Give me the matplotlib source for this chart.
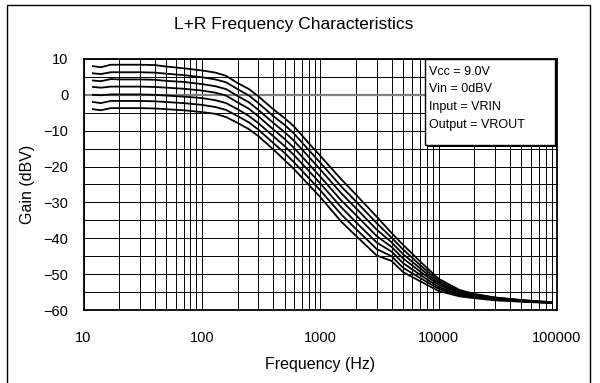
#!/usr/bin/env python3
"""L+R frequency characteristics: gain vs frequency for several volume steps."""

import matplotlib
matplotlib.use("Agg")
import matplotlib.pyplot as plt
from matplotlib.patches import Rectangle
from matplotlib.ticker import LogLocator, FixedLocator, NullFormatter


FREQ_HZ = [12, 14, 17, 20, 30, 40, 50, 70, 100, 130, 160, 200, 250, 300, 400,
           500, 600, 800, 1000, 1500, 2000, 3000, 4000, 5000, 7000, 10000,
           15000, 20000, 30000, 50000, 70000, 90000]

GAIN_P8 = [8.0, 7.7, 8.4, 8.4, 8.4, 8.3, 7.9, 7.4, 6.8, 6.2, 5.3, 3.3, 1.6, -0.4, -4.0,
           -6.5, -8.8, -13.5, -17.0, -23.5, -27.8, -34.0, -38.5, -41.8, -46.5, -51.3,
           -54.4, -55.5, -56.5, -57.2, -57.6, -57.8]
GAIN_P6 = [6.0, 5.8, 6.3, 6.3, 6.3, 6.2, 5.9, 5.5, 4.9, 4.3, 3.5, 1.6, -0.2, -2.3, -5.9,
           -8.4, -10.8, -15.4, -18.9, -25.5, -29.7, -35.8, -39.8, -43.1, -47.5, -51.9,
           -54.7, -55.7, -56.6, -57.3, -57.6, -57.8]
GAIN_P4 = [4.0, 3.8, 4.4, 4.3, 4.3, 4.2, 3.9, 3.6, 3.0, 2.4, 1.6, -0.3, -2.1, -4.2, -7.8,
           -10.4, -12.8, -17.3, -20.8, -27.4, -31.6, -37.6, -41.1, -44.4, -48.4, -52.5,
           -55.0, -55.9, -56.7, -57.3, -57.7, -57.9]
GAIN_P2 = [2.2, 2.0, 2.3, 2.3, 2.3, 2.2, 2.0, 1.7, 1.2, 0.6, -0.2, -2.1, -3.9, -6.0, -9.6,
           -12.3, -14.8, -19.3, -22.8, -29.4, -33.5, -39.4, -42.4, -45.6, -49.3, -53.0,
           -55.3, -56.1, -56.9, -57.4, -57.7, -57.9]
GAIN_0 = [0.0, -0.1, 0.1, 0.1, 0.1, 0.0, -0.2, -0.5, -0.9, -1.5, -2.3, -4.0, -5.9, -7.9, -11.5,
          -14.3, -16.8, -21.2, -24.7, -31.3, -35.5, -41.2, -43.7, -46.9, -50.2, -53.6,
          -55.6, -56.3, -57.0, -57.5, -57.8, -58.0]
GAIN_M2 = [-2.0, -2.3, -1.7, -1.7, -1.7, -1.8, -2.0, -2.3, -2.8, -3.4, -4.2, -5.9, -7.7, -9.7, -13.4,
           -16.2, -18.8, -23.2, -26.6, -33.3, -37.4, -43.0, -45.0, -48.2, -51.1, -54.1,
           -55.9, -56.5, -57.1, -57.6, -57.8, -58.0]
GAIN_M4 = [-4.0, -4.3, -3.7, -3.7, -3.7, -3.8, -4.0, -4.3, -4.8, -5.3, -6.2, -7.8, -9.6, -11.5, -15.2,
           -18.2, -20.7, -25.1, -28.5, -35.3, -39.3, -44.8, -46.3, -49.4, -52.0, -54.7,
           -56.2, -56.7, -57.3, -57.7, -57.9, -58.1]

SERIES = [GAIN_P8, GAIN_P6, GAIN_P4, GAIN_P2, GAIN_0, GAIN_M2, GAIN_M4]

Y_TICKS = [10, 0, -10, -20, -30, -40, -50, -60]
X_TICKS = [10, 100, 1000, 10000, 100000]
X_TICK_LABELS = ["10", "100", "1000", "10000", "100000"]

NOTE_LINES = ["Vcc = 9.0V", "Vin = 0dBV", "Input = VRIN", "Output = VROUT"]


def main():
	plt.rcParams["font.family"] = ["Liberation Sans", "DejaVu Sans"]

	fig = plt.figure(figsize=(6.0, 3.83), dpi=100)
	ax = fig.add_axes([0.1392, 0.1906, 0.7891, 0.6554])

	for gains in SERIES:
		ax.plot(FREQ_HZ, gains, color="black", linewidth=1.3, zorder=3)

	ax.set_xscale("log")
	ax.set_xlim(10, 100000)
	ax.set_ylim(-60, 10)

	ax.xaxis.set_major_locator(FixedLocator(X_TICKS))
	ax.set_xticklabels(X_TICK_LABELS)
	ax.xaxis.set_minor_locator(LogLocator(base=10, subs=range(2, 10)))
	ax.xaxis.set_minor_formatter(NullFormatter())
	ax.set_yticks(Y_TICKS)
	ax.yaxis.set_minor_locator(FixedLocator(range(-55, 10, 10)))

	ax.grid(which="both", color="black", linewidth=0.7, zorder=1)
	ax.axhline(0, color="#808080", linewidth=1.6, zorder=2)
	ax.tick_params(which="both", length=0, labelsize=10.5, colors="black")
	ax.tick_params(axis="x", pad=15)
	ax.tick_params(axis="y", pad=11)
	for spine in ax.spines.values():
		spine.set_linewidth(1.3)

	ax.set_xlabel("Frequency (Hz)", fontsize=11.5, labelpad=9)
	ax.set_ylabel("Gain (dBV)", fontsize=11.5, labelpad=6)
	fig.text(0.49, 0.935, "L+R Frequency Characteristics", fontsize=12.5,
		ha="center", va="center")

	# note box with shadow, top-right inside the plot
	shadow = Rectangle((0.7255, 0.649), 0.2746, 0.3426, transform=ax.transAxes,
		facecolor="black", edgecolor="none", zorder=4)
	box = Rectangle((0.7212, 0.657), 0.2746, 0.3426, transform=ax.transAxes,
		facecolor="white", edgecolor="black", linewidth=1.0, zorder=5)
	ax.add_patch(shadow)
	ax.add_patch(box)
	for i, line in enumerate(NOTE_LINES):
		ax.text(0.7307, 0.949 - i * 0.0705, line, transform=ax.transAxes,
			fontsize=9, ha="left", va="center", zorder=6)

	# outer chart frame
	frame = Rectangle((7 / 600, -0.05), 583 / 600, 1 - 5 / 383 + 0.05,
		transform=fig.transFigure, facecolor="none", edgecolor="black",
		linewidth=1.0)
	fig.patches.append(frame)

	fig.savefig("out.png", dpi=100)


if __name__ == "__main__":
	main()
